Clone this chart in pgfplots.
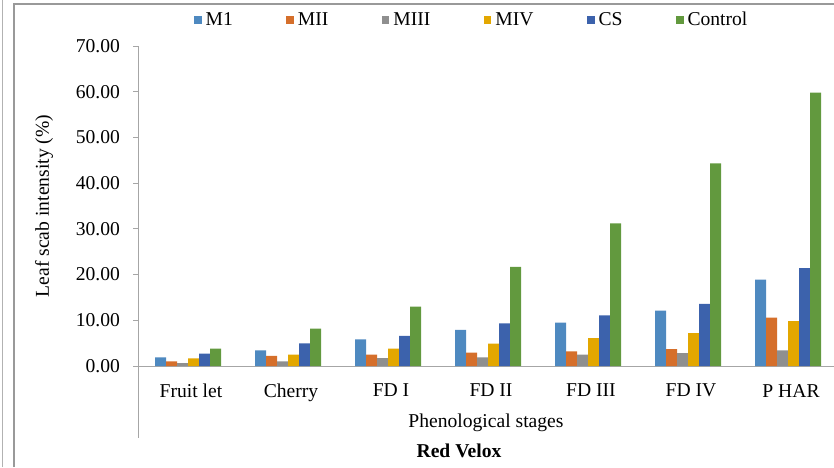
\documentclass[border=0pt]{standalone}
\usepackage{fontspec}
\setmainfont{Liberation Serif}
\usepackage{pgfplots}
\pgfplotsset{compat=1.18}
\definecolor{cM1}{HTML}{4E89C0}
\definecolor{cMII}{HTML}{D56F2B}
\definecolor{cMIII}{HTML}{8F8F8F}
\definecolor{cMIV}{HTML}{E3A700}
\definecolor{cCS}{HTML}{3C62AC}
\definecolor{cCtl}{HTML}{62993E}
\definecolor{axgray}{HTML}{A6A6A6}
\begin{document}
\begin{tikzpicture}
\useasboundingbox (0,0) rectangle (417pt,233.5pt);
\draw[gray!60, line width=0.5pt] (1pt,0) -- (1pt,233.5pt);
\draw[gray!80, line width=0.6pt] (7pt,0) -- (7pt,231.5pt) -- (417pt,231.5pt);
\draw[axgray, line width=0.5pt] (69pt,50.5pt) -- (69pt,14.5pt);
\begin{axis}[
  at={(69pt,50.5pt)}, anchor=south west,
  scale only axis, width=348pt, height=160pt,
  xmin=-0.5, xmax=6.46, ymin=0, ymax=70,
  axis x line=bottom, axis y line=left,
  axis line style={axgray, line width=0.5pt, -},
  x axis line style={-},
  y axis line style={-},
  ybar=0pt, bar width=5.5pt,
  xtick={0,1,2,3,4,5,6},
  xticklabels={Fruit let,Cherry,FD I,FD II,FD III,FD IV,P HAR},
  xtick style={draw=none},
  ytick={0,10,20,30,40,50,60,70},
  yticklabel={\pgfmathprintnumber[fixed,fixed zerofill,precision=2]{\tick}},
  /pgf/number format/assume math mode=true,
  ytick style={axgray, line width=0.5pt},
  tick align=outside, major tick length=2.5pt,
  ticklabel style={font=\fontsize{9.8}{11}\selectfont},
  yticklabel style={xshift=-3pt},
  xticklabel style={yshift=-3pt, xshift=1.5pt},
  xlabel={Phenological stages},
  ylabel={Leaf scab intensity (\%)},
  label style={font=\fontsize{9.8}{11}\selectfont},
  xlabel style={at={(axis description cs:0.5,0)}, anchor=center, yshift=-28.5pt},
  every axis y label/.append style={at={(-47pt,80pt)}, anchor=center},
  legend columns=6,
  legend style={at={(0.481,1.081)}, anchor=center, draw=none, fill=none,
    font=\fontsize{9.8}{11}\selectfont,
    /tikz/every even column/.append style={column sep=24.7pt}},
  legend image code/.code={\fill[#1] (0pt,-1.9pt) rectangle (3.8pt,1.9pt);},
  clip=false,
]
\addplot[fill=cM1, draw=none] coordinates {(0,1.9) (1,3.4) (2,5.8) (3,7.9) (4,9.5) (5,12.1) (6,18.9)};
\addplot[fill=cMII, draw=none] coordinates {(0,1.0) (1,2.2) (2,2.5) (3,2.9) (4,3.2) (5,3.7) (6,10.6)};
\addplot[fill=cMIII, draw=none] coordinates {(0,0.65) (1,1.0) (2,1.7) (3,1.9) (4,2.5) (5,2.8) (6,3.4)};
\addplot[fill=cMIV, draw=none] coordinates {(0,1.65) (1,2.5) (2,3.8) (3,4.9) (4,6.1) (5,7.2) (6,9.8)};
\addplot[fill=cCS, draw=none] coordinates {(0,2.7) (1,4.95) (2,6.6) (3,9.3) (4,11.1) (5,13.6) (6,21.4)};
\addplot[fill=cCtl, draw=none] coordinates {(0,3.8) (1,8.2) (2,13.0) (3,21.7) (4,31.2) (5,44.3) (6,59.8)};
\legend{M1,MII,MIII,MIV,CS,Control}
\end{axis}
\node[font=\bfseries\fontsize{9.8}{11}\selectfont] at (229.5pt,8pt) {Red Velox};
\end{tikzpicture}
\end{document}
